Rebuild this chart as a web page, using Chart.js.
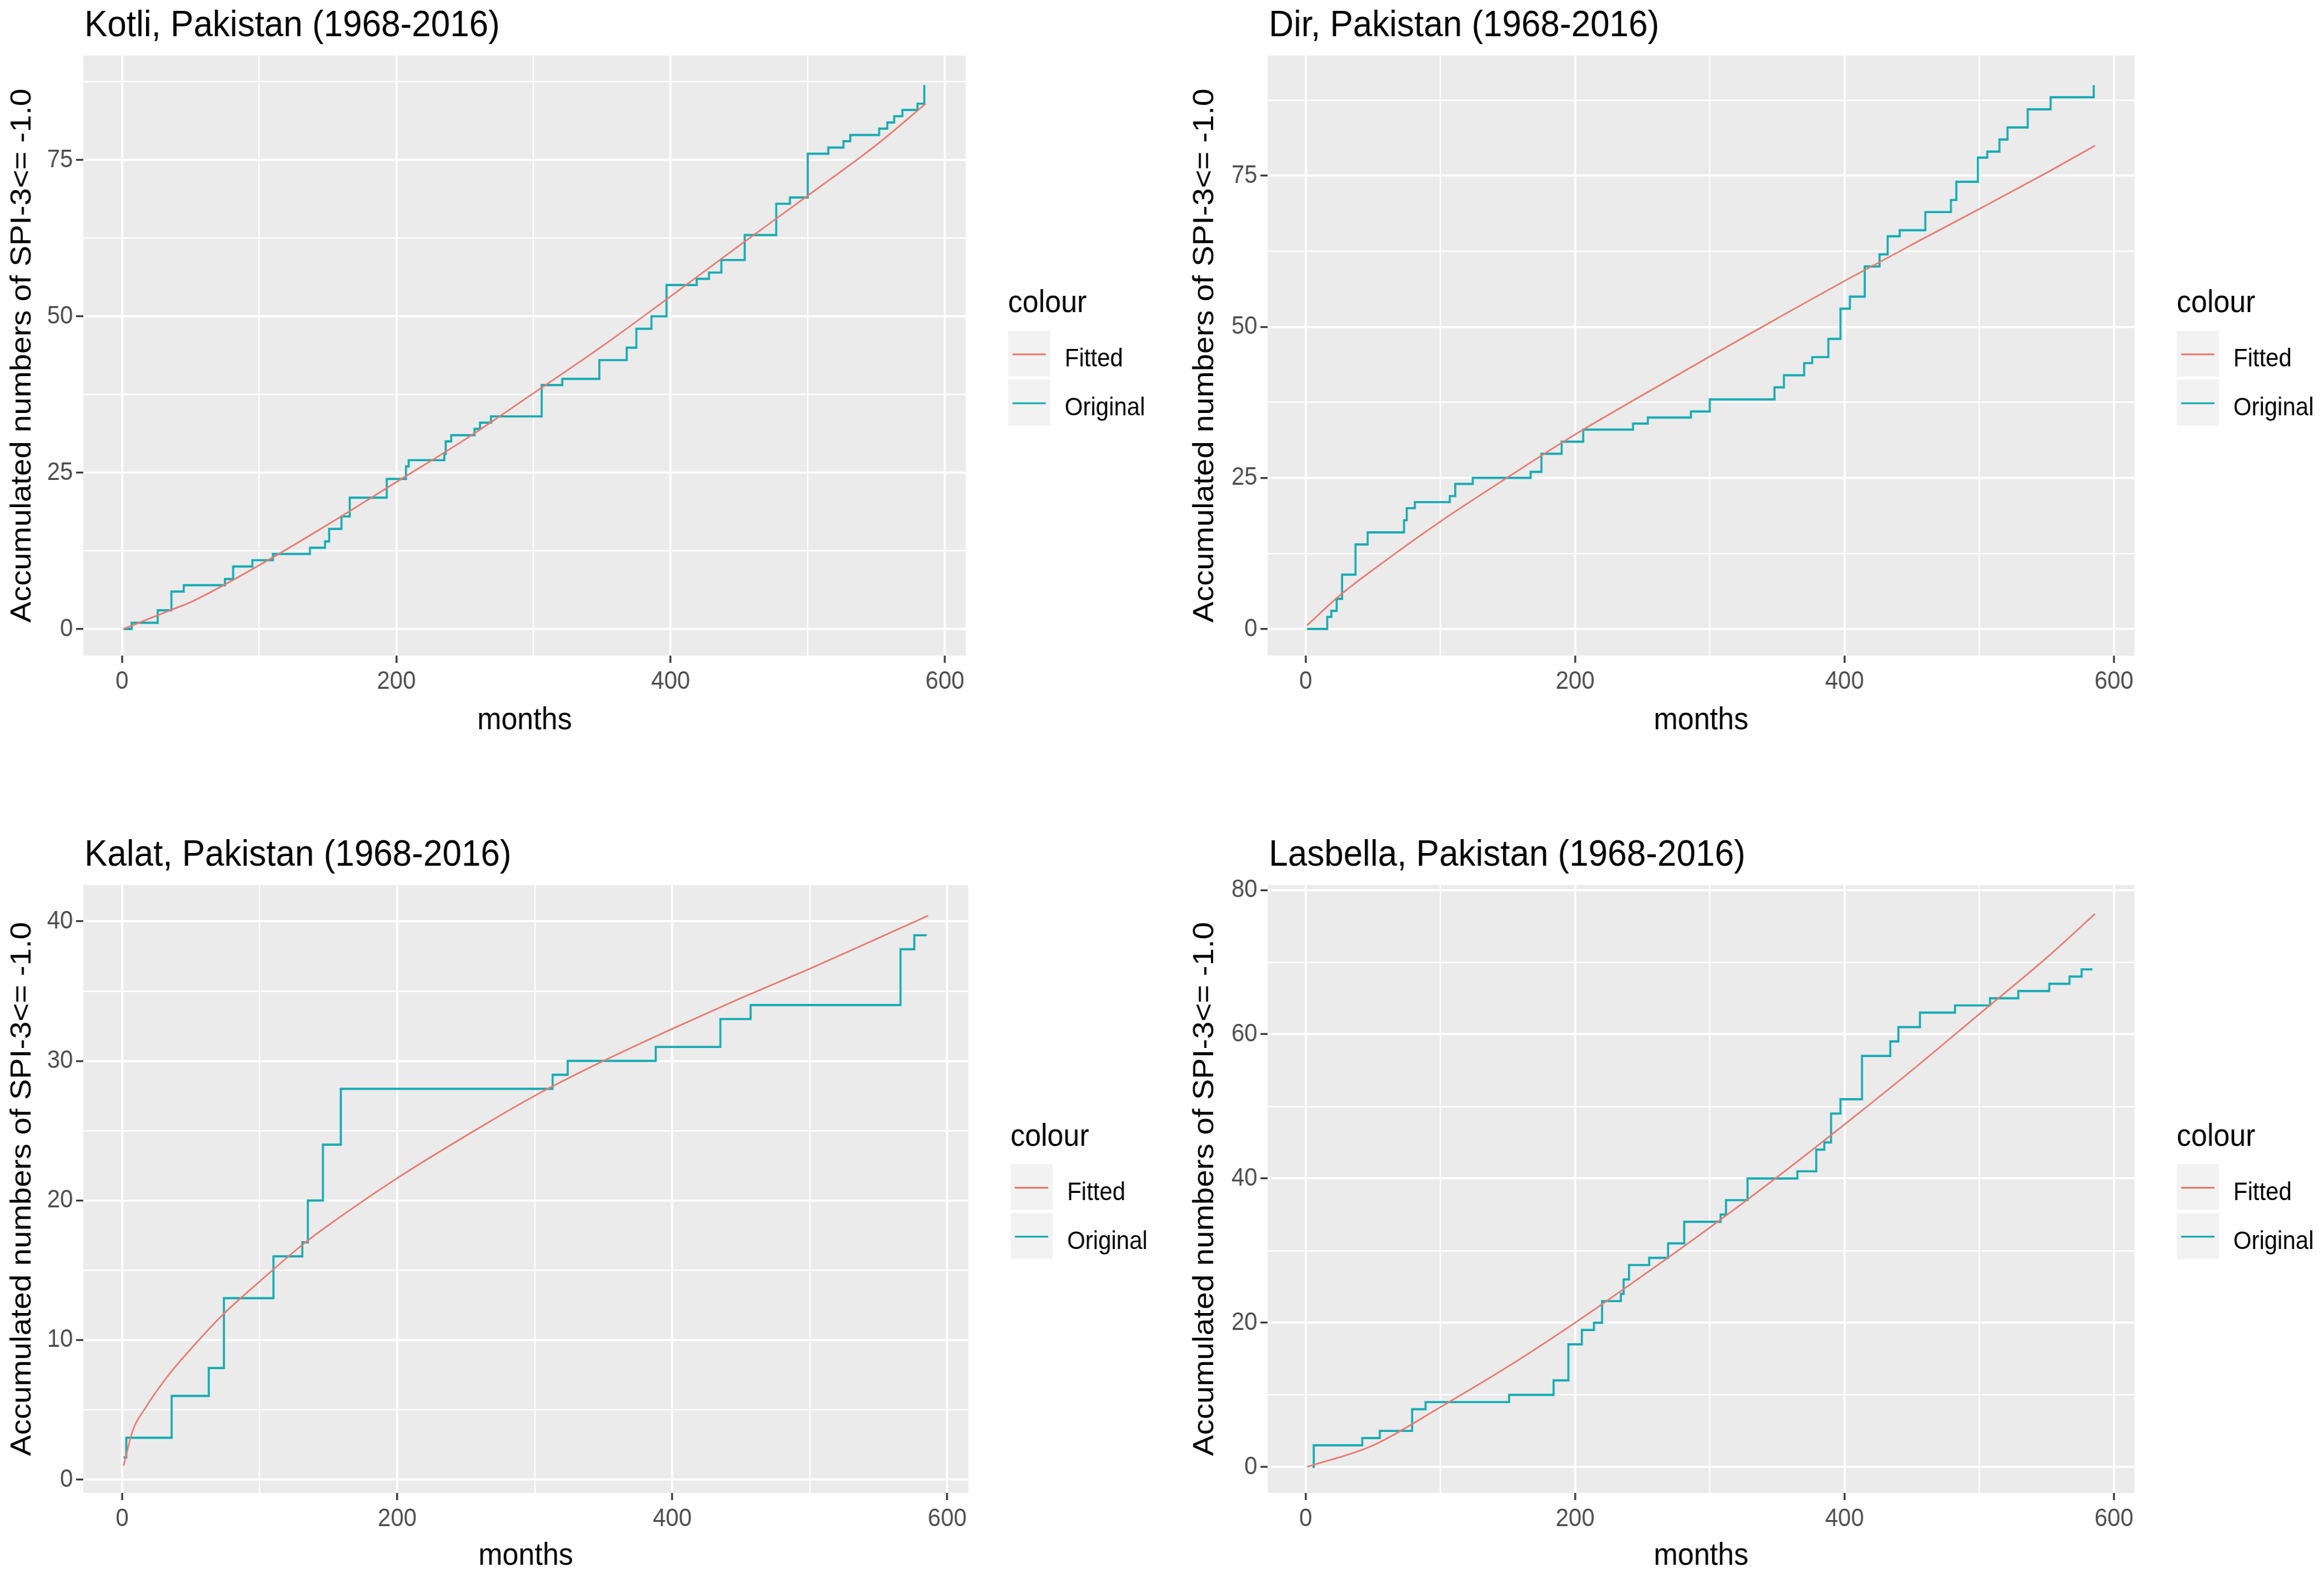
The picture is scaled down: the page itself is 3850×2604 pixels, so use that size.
<!DOCTYPE html>
<html>
<head>
<meta charset="utf-8">
<script src="https://cdn.jsdelivr.net/npm/chart.js@4.4.1/dist/chart.umd.min.js"></script>
<style>
  html, body { margin: 0; padding: 0; background: #ffffff; }
  body { width: 3850px; height: 2604px; overflow: hidden; position: relative; }
  canvas { position: absolute; }
</style>
</head>
<body>
<canvas id="kotli"></canvas>
<canvas id="dir"></canvas>
<canvas id="kalat"></canvas>
<canvas id="lasbella"></canvas>
<script>
// ---- data ----
const xTicks = [0, 100, 200, 300, 400, 500, 600];

const kotliOrigX = [1, 7, 26, 36, 45, 75, 81, 95, 110, 137, 148, 151, 160, 166, 193, 207, 209, 235, 236, 240, 257, 261, 269, 306, 321, 348, 368, 375, 386, 397, 419, 428, 437, 454, 477, 487, 500, 515, 526, 531, 552, 558, 563, 569, 580, 585];
const kotliOrigY = [0, 1, 3, 6, 7, 8, 10, 11, 12, 13, 14, 16, 18, 21, 24, 26, 27, 28, 30, 31, 32, 33, 34, 39, 40, 43, 45, 48, 50, 55, 56, 57, 59, 63, 68, 69, 76, 77, 78, 79, 80, 81, 82, 83, 84, 87];
const kotliFitX = [1, 35, 50, 100, 150, 200, 250, 300, 350, 400, 450, 500, 550, 586];
const kotliFitY = [0, 3, 4.3, 10.2, 16.7, 23.5, 30.3, 37.7, 45.2, 53.2, 61.3, 69.3, 77.4, 84];
const kotliYTicks = [0, 12.5, 25, 37.5, 50, 62.5, 75, 87.5];

const dirOrigX = [1, 16, 19, 23, 27, 37, 46, 73, 75, 81, 107, 111, 124, 167, 175, 190, 206, 243, 254, 286, 300, 348, 355, 370, 376, 388, 397, 404, 415, 426, 432, 441, 460, 479, 483, 499, 506, 515, 521, 536, 553, 585];
const dirOrigY = [0, 2, 3, 5, 9, 14, 16, 18, 20, 21, 22, 24, 25, 26, 29, 31, 33, 34, 35, 36, 38, 40, 42, 44, 45, 48, 53, 55, 60, 62, 65, 66, 69, 71, 74, 78, 79, 81, 83, 86, 88, 90];
const dirFitX = [1, 25, 50, 100, 150, 200, 250, 300, 350, 400, 450, 500, 550, 586];
const dirFitY = [0.6, 5.5, 9.8, 17.8, 25.1, 32.2, 38.7, 45.1, 51.4, 57.6, 63.6, 69.5, 75.5, 80];
const dirYTicks = [0, 12.5, 25, 37.5, 50, 62.5, 75, 87.5];

const kalatOrigX = [1, 3, 36, 63, 74, 110, 131, 135, 146, 159, 313, 324, 388, 435, 457, 566, 576, 585];
const kalatOrigY = [1.6, 3, 6, 8, 13, 16, 17, 20, 24, 28, 29, 30, 31, 33, 34, 38, 39, 39];
const kalatFitX = [1, 8, 16, 33, 53, 73, 100, 132, 151, 200, 263, 300, 350, 400, 450, 500, 550, 586];
const kalatFitY = [1, 3.6, 5, 7.4, 9.7, 11.8, 14.2, 16.9, 18.3, 21.6, 25.4, 27.5, 30, 32.3, 34.5, 36.6, 38.8, 40.4];
const kalatYTicks = [0, 5, 10, 15, 20, 25, 30, 35, 40];

const lasOrigX = [5, 6, 42, 55, 79, 89, 151, 184, 195, 205, 214, 220, 234, 236, 240, 255, 269, 281, 308, 312, 328, 365, 379, 385, 390, 397, 413, 434, 440, 456, 482, 508, 529, 552, 567, 576, 584];
const lasOrigY = [0, 3, 4, 5, 8, 9, 10, 12, 17, 19, 20, 23, 24, 26, 28, 29, 31, 34, 35, 37, 40, 41, 44, 45, 49, 51, 57, 59, 61, 63, 64, 65, 66, 67, 68, 69, 69];
const lasFitX = [1, 50, 100, 150, 200, 250, 300, 350, 400, 450, 500, 550, 586];
const lasFitY = [0, 3, 8.3, 13.9, 20, 26.5, 33.2, 40.2, 47.5, 55, 62.8, 70.6, 76.7];
const lasYTicks = [0, 10, 20, 30, 40, 50, 60, 70, 80];

const yTitle = 'Accumulated numbers of SPI-3<= -1.0';
const FONT = "'Liberation Sans', Arial, sans-serif";

// canvas is drawn wider and squeezed back, the picture is narrowed a bit
const W = 2092, H = 1310, CSSW = 1925;
const SX = CSSW / W;

function pts(xs, ys) {
    return xs.map(function(x, i) { return {x: x, y: ys[i]}; });
}

// panel background, title and the little ggplot style legend
const panelDeco = {
    id: 'panelDeco',
    beforeDraw(chart) {
        const a = chart.chartArea, c = chart.ctx;
        c.save();
        c.fillStyle = '#EBEBEB';
        c.fillRect(a.left, a.top, a.right - a.left, a.bottom - a.top);
        c.restore();
    },
    afterDraw(chart) {
        const a = chart.chartArea, c = chart.ctx;
        const o = chart.options.plugins.panelDeco;
        c.save();
        c.fillStyle = '#000000';
        c.textAlign = 'left';
        c.textBaseline = 'alphabetic';
        c.font = '62px ' + FONT;
        c.fillText(o.title, a.left + 2, a.top - 32);

        const mid = (a.top + a.bottom) / 2;
        const lx = a.right + 76;
        c.font = '52px ' + FONT;
        c.fillText('colour', lx, mid - 72);
        c.font = '42px ' + FONT;
        chart.data.datasets.forEach(function(ds, i) {
            const top = mid - 41 + i * 81;
            c.fillStyle = '#F2F2F2';
            c.fillRect(lx, top, 76, 76);
            c.strokeStyle = ds.borderColor;
            c.lineWidth = 3;
            c.beginPath();
            c.moveTo(lx + 8, top + 39);
            c.lineTo(lx + 68, top + 39);
            c.stroke();
            c.fillStyle = '#000000';
            c.fillText(ds.label, lx + 102, top + 59);
        });
        c.restore();
    }
};

function makePanel(p) {
    const cv = document.getElementById(p.id);
    cv.width = W;
    cv.height = H;
    cv.style.left = p.pageX + 'px';
    cv.style.top = p.pageY + 'px';
    cv.style.width = CSSW + 'px';
    cv.style.height = H + 'px';

    const areaL = p.L / SX, areaR = p.R / SX;

    new Chart(cv.getContext('2d'), {
        type: 'line',
        data: {
            datasets: [
                {
                    label: 'Fitted',
                    data: pts(p.fitX, p.fitY),
                    borderColor: '#E87A6F',
                    borderWidth: 2.7,
                    pointRadius: 0,
                    cubicInterpolationMode: 'monotone',
                    fill: false
                },
                {
                    label: 'Original',
                    data: pts(p.origX, p.origY),
                    borderColor: '#17ABB3',
                    borderWidth: 3.7,
                    pointRadius: 0,
                    stepped: 'before',
                    fill: false
                }
            ]
        },
        options: {
            responsive: false,
            animation: false,
            devicePixelRatio: 1,
            events: [],
            layout: { padding: { left: 0, top: p.T, right: W - areaR, bottom: 0 } },
            plugins: {
                legend: { display: false },
                tooltip: { enabled: false },
                panelDeco: { title: p.title }
            },
            scales: {
                x: {
                    type: 'linear',
                    min: -28.25,
                    max: 615.25,
                    afterBuildTicks: function(s) { s.ticks = xTicks.map(function(v) { return {value: v}; }); },
                    afterFit: function(s) { s.height = H - p.B; },
                    border: { display: false },
                    ticks: {
                        autoSkip: false,
                        maxRotation: 0,
                        padding: 6,
                        color: '#4D4D4D',
                        font: { family: FONT, size: 42 },
                        callback: function(v) { return v % 200 === 0 ? String(v) : ''; }
                    },
                    grid: {
                        color: '#FFFFFF',
                        lineWidth: function(c) { return c.tick && c.tick.value % 200 === 0 ? 3.8 : 2.3; },
                        drawTicks: true,
                        tickLength: 12,
                        tickWidth: 3.3,
                        tickColor: function(c) { return c.tick && c.tick.value % 200 === 0 ? '#333333' : 'rgba(0,0,0,0)'; }
                    },
                    title: {
                        display: true,
                        text: 'months',
                        color: '#000000',
                        font: { family: FONT, size: 52 },
                        padding: { top: 0, bottom: p.xTitlePad }
                    }
                },
                y: {
                    type: 'linear',
                    min: p.yMin,
                    max: p.yMax,
                    afterBuildTicks: function(s) { s.ticks = p.yTicks.map(function(v) { return {value: v}; }); },
                    afterFit: function(s) { s.width = areaL; },
                    border: { display: false },
                    ticks: {
                        padding: 5.5,
                        color: '#4D4D4D',
                        font: { family: FONT, size: 42 },
                        callback: function(v) { return v % p.yMajor === 0 ? String(v) : ''; }
                    },
                    grid: {
                        color: '#FFFFFF',
                        lineWidth: function(c) { return c.tick && c.tick.value % p.yMajor === 0 ? 3.6 : 2.2; },
                        drawTicks: true,
                        tickLength: 13,
                        tickWidth: 3,
                        tickColor: function(c) { return c.tick && c.tick.value % p.yMajor === 0 ? '#333333' : 'rgba(0,0,0,0)'; }
                    },
                    title: {
                        display: true,
                        text: yTitle,
                        color: '#000000',
                        font: { family: FONT, size: 52 },
                        padding: { top: p.yTitlePad, bottom: 0 }
                    }
                }
            }
        },
        plugins: [panelDeco]
    });
}

makePanel({ id: 'kotli', title: 'Kotli, Pakistan (1968-2016)', pageX: 0, pageY: 0,
    L: 138, R: 1600, T: 92, B: 1086, yMin: -4.25, yMax: 91.7, yTicks: kotliYTicks, yMajor: 25,
    origX: kotliOrigX, origY: kotliOrigY, fitX: kotliFitX, fitY: kotliFitY, xTitlePad: 84.8, yTitlePad: 9 });

makePanel({ id: 'dir', title: 'Dir, Pakistan (1968-2016)', pageX: 1925, pageY: 0,
    L: 175, R: 1611, T: 92, B: 1086, yMin: -4.4, yMax: 94.9, yTicks: dirYTicks, yMajor: 25,
    origX: dirOrigX, origY: dirOrigY, fitX: dirFitX, fitY: dirFitY, xTitlePad: 84.8, yTitlePad: 46 });

makePanel({ id: 'kalat', title: 'Kalat, Pakistan (1968-2016)', pageX: 0, pageY: 1302,
    L: 138, R: 1604, T: 164, B: 1171, yMin: -0.95, yMax: 42.6, yTicks: kalatYTicks, yMajor: 10,
    origX: kalatOrigX, origY: kalatOrigY, fitX: kalatFitX, fitY: kalatFitY, xTitlePad: 2.8, yTitlePad: 9 });

makePanel({ id: 'lasbella', title: 'Lasbella, Pakistan (1968-2016)', pageX: 1925, pageY: 1302,
    L: 175, R: 1611, T: 164, B: 1171, yMin: -3.6, yMax: 80.7, yTicks: lasYTicks, yMajor: 20,
    origX: lasOrigX, origY: lasOrigY, fitX: lasFitX, fitY: lasFitY, xTitlePad: 2.8, yTitlePad: 46 });
</script>
</body>
</html>
